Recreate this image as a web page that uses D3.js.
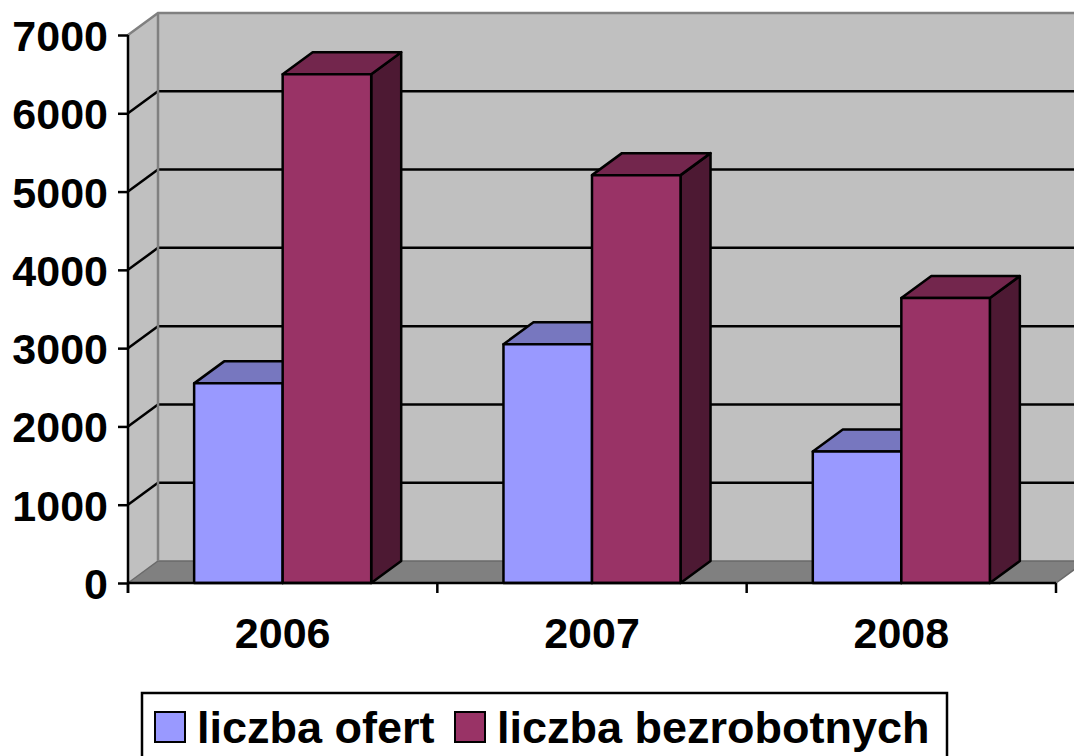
<!DOCTYPE html>
<html><head><meta charset="utf-8">
<script src="https://cdn.jsdelivr.net/npm/d3@7"></script>
<style>html,body{margin:0;padding:0;background:#fff;}svg{display:block;}</style>
</head><body>
<script>
const categories = ["2006", "2007", "2008"];
const seriesNames = ["liczba ofert", "liczba bezrobotnych"];
const liczbaOfert = [2550, 3050, 1680];
const liczbaBezrobotnych = [6500, 5210, 3640];
const yTicks = [0, 1000, 2000, 3000, 4000, 5000, 6000, 7000];

const W = 1074, H = 756;
const frontColors = ["#9999FF", "#993366"];
const topColors = ["#7777BF", "#73264D"];
const sideColors = ["#4D4D80", "#4D1933"];
const DX = 30, DY = -22;

const svg = d3.select("body").append("svg").attr("width", W).attr("height", H);
svg.append("rect").attr("width", W).attr("height", H).attr("fill", "#fff");

const y = d3.scaleLinear().domain([0, 7000]).range([583, 35]);
const x0 = d3.scaleBand().domain(categories).range([128, 1056]).padding(0);
const x1 = d3.scaleBand().domain(seriesNames).range([0, x0.bandwidth()]).paddingInner(0).paddingOuter(0.747);

const X0 = x0.range()[0], X1 = x0.range()[1];
const Y0 = y(0), Ytop = y(7000);
const pts = a => a.map(p => p.join(",")).join(" ");

// back wall
svg.append("polygon").attr("points", pts([[X0+DX,Ytop+DY],[X1+DX,Ytop+DY],[X1+DX,Y0+DY],[X0+DX,Y0+DY]]))
  .attr("fill", "#C0C0C0");
// side wall
svg.append("polygon").attr("points", pts([[X0,Ytop],[X0+DX,Ytop+DY],[X0+DX,Y0+DY],[X0,Y0]]))
  .attr("fill", "#C0C0C0");
// floor
svg.append("polygon").attr("points", pts([[X0,Y0],[X0+DX,Y0+DY],[X1+DX,Y0+DY],[X1,Y0]]))
  .attr("fill", "#808080").attr("stroke", "#6a6a6a").attr("stroke-width", 1.5);

// gridlines
const grid = svg.append("g");
yTicks.filter(t => t > 0 && t < 7000).forEach(t => {
  grid.append("line").attr("x1", X0+DX).attr("x2", X1+DX).attr("y1", y(t)+DY).attr("y2", y(t)+DY)
    .attr("stroke", "#000").attr("stroke-width", 2.5);
  grid.append("line").attr("x1", X0).attr("x2", X0+DX).attr("y1", y(t)).attr("y2", y(t)+DY)
    .attr("stroke", "#000").attr("stroke-width", 2.5);
});
// wall edges
svg.append("polyline").attr("points", pts([[X0,Ytop],[X0+DX,Ytop+DY],[X1+DX,Ytop+DY]]))
  .attr("fill", "none").attr("stroke", "#808080").attr("stroke-width", 2.5);
svg.append("line").attr("x1", X0+DX).attr("x2", X0+DX).attr("y1", Ytop+DY).attr("y2", Y0+DY)
  .attr("stroke", "#808080").attr("stroke-width", 2.5);

// bars
const data = categories.map((c, i) => ({cat: c, vals: [liczbaOfert[i], liczbaBezrobotnych[i]]}));
data.forEach(d => {
  d.vals.forEach((v, s) => {
    const xl = x0(d.cat) + x1(seriesNames[s]);
    const xr = xl + x1.bandwidth();
    const yt = y(v);
    const g = svg.append("g").attr("stroke", "#000").attr("stroke-width", 2.5).attr("stroke-linejoin", "round");
    g.append("polygon").attr("points", pts([[xr,yt],[xr+DX,yt+DY],[xr+DX,Y0+DY],[xr,Y0]])).attr("fill", sideColors[s]);
    g.append("polygon").attr("points", pts([[xl,yt],[xl+DX,yt+DY],[xr+DX,yt+DY],[xr,yt]])).attr("fill", topColors[s]);
    g.append("rect").attr("x", xl).attr("y", yt).attr("width", xr-xl).attr("height", Y0-yt).attr("fill", frontColors[s]);
  });
});

// axes
const yAxis = d3.axisLeft(y).tickValues(yTicks).tickSize(10).tickPadding(10).tickFormat(d3.format("d"));
const ya = svg.append("g").attr("transform", `translate(${X0},0)`).call(yAxis);
ya.select(".domain").attr("stroke", "#000").attr("stroke-width", 2.5).attr("d", `M0,${Ytop}V${Y0+10}`);
ya.selectAll(".tick line").attr("stroke", "#000").attr("stroke-width", 2.5);
ya.selectAll(".tick text").attr("font-family", "Liberation Sans, Arial, sans-serif")
  .attr("font-weight", "bold").attr("font-size", 43).attr("fill", "#000").attr("dy", "0.36em");

const xAxis = d3.axisBottom(x0).tickSize(0).tickPadding(0);
const xa = svg.append("g").attr("transform", `translate(0,${Y0})`).call(xAxis);
xa.select(".domain").attr("stroke", "#000").attr("stroke-width", 2.5).attr("d", `M${X0},0H${X1}`);
xa.selectAll(".tick text").attr("font-family", "Liberation Sans, Arial, sans-serif")
  .attr("font-weight", "bold").attr("font-size", 43).attr("fill", "#000").attr("dy", 0).attr("y", 65);
// category boundary ticks
const bounds = categories.map(c => x0(c)).concat([X1]);
xa.selectAll(".btick").data(bounds).join("line").attr("class", "btick")
  .attr("x1", d => d).attr("x2", d => d).attr("y1", 0).attr("y2", 10)
  .attr("stroke", "#000").attr("stroke-width", 2.5);

// legend
const lg = svg.append("g");
lg.append("rect").attr("x", 142).attr("y", 693).attr("width", 805).attr("height", 90)
  .attr("fill", "#fff").attr("stroke", "#000").attr("stroke-width", 2.5);
const legendX = [155, 455];
seriesNames.forEach((n, s) => {
  lg.append("rect").attr("x", legendX[s]).attr("y", 712).attr("width", 30).attr("height", 30)
    .attr("fill", frontColors[s]).attr("stroke", "#000").attr("stroke-width", 2);
  lg.append("text").attr("x", legendX[s] + 42).attr("y", 743).text(n)
    .attr("font-family", "Liberation Sans, Arial, sans-serif").attr("font-weight", "bold")
    .attr("font-size", 45).attr("fill", "#000");
});
</script>
</body></html>
